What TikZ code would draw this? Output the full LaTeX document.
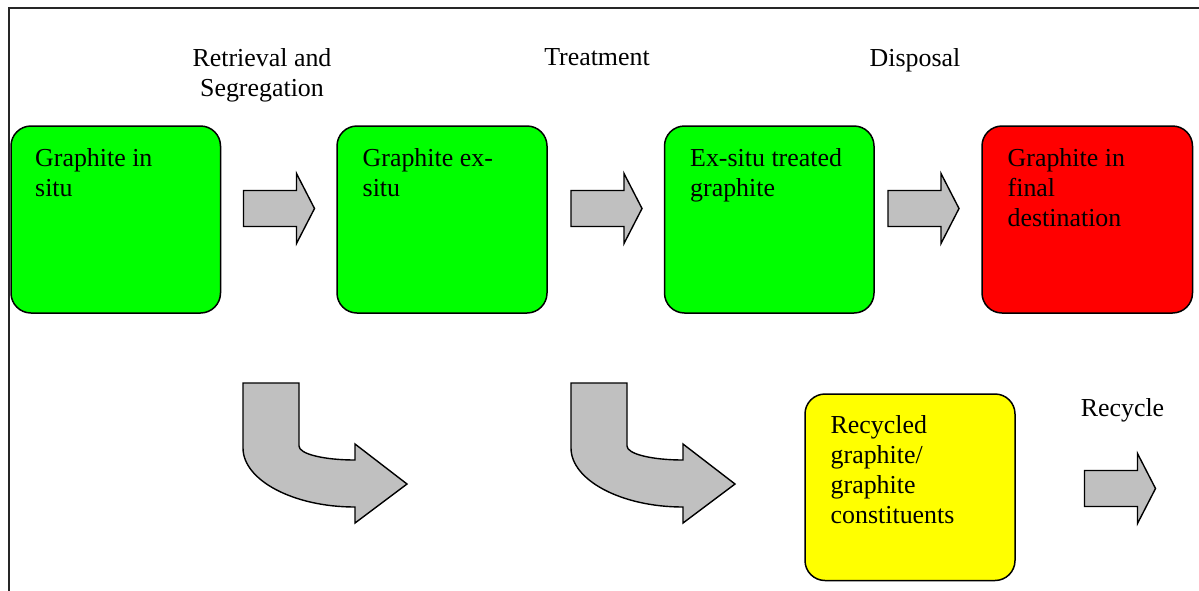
\documentclass[tikz,border=0pt]{standalone}
\usepackage{fontspec}
\setmainfont{Liberation Serif}
\definecolor{boxgreen}{RGB}{0,255,0}
\definecolor{boxred}{RGB}{255,0,0}
\definecolor{boxyellow}{RGB}{255,255,0}
\definecolor{arrowgray}{RGB}{192,192,192}
\tikzset{
  procbox/.style={draw=black, line width=1.5pt, rounded corners=20pt},
  boxtext/.style={anchor=north west, inner sep=0pt, align=left, font=\fontsize{25.9}{30}\selectfont},
  lbl/.style={anchor=north, inner sep=0pt, align=center, font=\fontsize{25.9}{30}\selectfont},
  blockarrow/.style={draw=black, line width=1.4pt, fill=arrowgray, line join=miter},
}
\newcommand{\rightblock}[2]{%
  \draw[blockarrow] (#1,#2) -- ++(53,0) -- ++(0,-17) -- ++(18,35) -- ++(-18,35) -- ++(0,-17) -- ++(-53,0) -- cycle;}
\newcommand{\bentblock}[1]{%
  \begin{scope}[xshift=#1]
  \draw[blockarrow] (243,383) -- (299,383) -- (299,446)
    .. controls (299,454) and (324,460) .. (355,460) -- (355,444) -- (407,484) -- (355,523) -- (355,507)
    .. controls (293,507) and (243,480) .. (243,448) -- cycle;
  \end{scope}}
\begin{document}
\begin{tikzpicture}[x=1pt,y=-1pt]
\useasboundingbox (0,0) rectangle (1199,590);
% frame
\draw[line width=2pt, black!85] (8.5,592) -- (8.5,7.5) -- (1201,7.5);
% boxes
\draw[procbox, fill=boxgreen] (11,126) rectangle (220.5,313);
\coordinate (b1) at (11,126);
\draw[procbox, fill=boxgreen] (337,126) rectangle (547,313);
\coordinate (b2) at (337,126);
\draw[procbox, fill=boxgreen] (664.5,126) rectangle (874,313);
\coordinate (b3) at (664.5,126);
\draw[procbox, fill=boxred] (982,126) rectangle (1192.5,313);
\coordinate (b4) at (982,126);
\draw[procbox, fill=boxyellow] (805,394) rectangle (1015,580.5);
\coordinate (b5) at (805,394);
% box texts
\node[boxtext] (t1) at (35,148.3) {Graphite in\\situ};
\node[boxtext] (t2) at (362.5,148.3) {Graphite ex-\\situ};
\node[boxtext] (t3) at (690,148.3) {Ex-situ treated\\graphite};
\node[boxtext] (t4) at (1007.5,148.3) {Graphite in\\final\\destination};
\node[boxtext] (t5) at (830.5,415.3) {Recycled\\graphite/\\graphite\\constituents};
% labels
\node[lbl] (l1) at (262,48.3) {Retrieval and\\Segregation};
\node[lbl] (l2) at (597,48.3) {Treatment};
\node[lbl] (l3) at (915,48.3) {Disposal};
\node[lbl] (l4) at (1122.5,398.3) {Recycle};
% straight block arrows
\rightblock{243.5}{190.5}
\rightblock{571}{190.5}
\rightblock{888}{190.5}
\rightblock{1084.5}{470.5}
% bent block arrows
\bentblock{0}
\bentblock{328}
\end{tikzpicture}
\end{document}
